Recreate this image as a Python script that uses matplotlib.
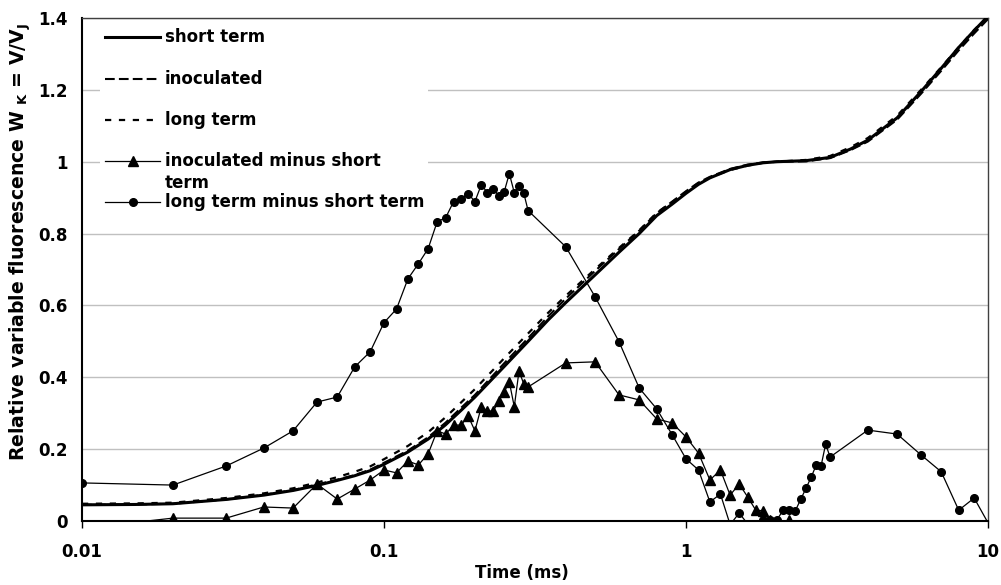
import numpy as np
import matplotlib
matplotlib.use("Agg")
import matplotlib.pyplot as plt
from matplotlib.patches import Rectangle
from matplotlib.ticker import NullLocator, FixedLocator, FixedFormatter

# ---------------- data ----------------
time_curve = [0.01, 0.015, 0.02, 0.03, 0.04, 0.05, 0.06, 0.07, 0.08, 0.09,
              0.1, 0.12, 0.14, 0.16, 0.18, 0.2, 0.25, 0.3, 0.35, 0.4,
              0.5, 0.6, 0.7, 0.8, 0.9, 1.0, 1.1, 1.2, 1.4, 1.6,
              1.8, 2.0, 2.5, 3.0, 3.5, 4.0, 5.0, 6.0, 7.0, 8.0, 9.0, 10.0]

short_term = [0.045, 0.046, 0.048, 0.060, 0.072, 0.085, 0.099, 0.113, 0.126, 0.140,
              0.158, 0.192, 0.228, 0.268, 0.308, 0.345, 0.430, 0.500, 0.560, 0.608,
              0.685, 0.748, 0.800, 0.850, 0.882, 0.912, 0.937, 0.955, 0.978, 0.990,
              0.997, 1.000, 1.003, 1.012, 1.035, 1.060, 1.122, 1.195, 1.260, 1.318, 1.365, 1.405]

inoculated = [0.045, 0.046, 0.048, 0.060, 0.073, 0.086, 0.102, 0.115, 0.128, 0.143,
              0.162, 0.196, 0.233, 0.274, 0.315, 0.351, 0.439, 0.509, 0.570, 0.619,
              0.696, 0.757, 0.808, 0.857, 0.889, 0.918, 0.942, 0.958, 0.980, 0.992,
              0.998, 1.000, 1.001, 1.010, 1.032, 1.056, 1.117, 1.189, 1.253, 1.310, 1.357, 1.397]

long_term = [0.048, 0.049, 0.051, 0.064, 0.077, 0.091, 0.107, 0.122, 0.137, 0.152,
             0.172, 0.209, 0.247, 0.289, 0.330, 0.367, 0.453, 0.522, 0.580, 0.627,
             0.701, 0.760, 0.809, 0.858, 0.888, 0.916, 0.941, 0.956, 0.977, 0.989,
             0.997, 1.000, 1.005, 1.016, 1.040, 1.066, 1.128, 1.200, 1.263, 1.319, 1.367, 1.405]

time_diff = [0.01, 0.02, 0.03, 0.04, 0.05, 0.06, 0.07, 0.08, 0.09, 0.10,
             0.11, 0.12, 0.13, 0.14, 0.15, 0.16, 0.17, 0.18, 0.19, 0.20,
             0.21, 0.22, 0.23, 0.24, 0.25, 0.26, 0.27, 0.28, 0.29, 0.30,
             0.4, 0.5, 0.6, 0.7, 0.8, 0.9, 1.0, 1.1, 1.2, 1.3,
             1.4, 1.5, 1.6, 1.7, 1.8, 1.9, 2.0, 2.1, 2.2, 2.3,
             2.4, 2.5, 2.6, 2.7, 2.8, 2.9, 3.0,
             4, 5, 6, 7, 8, 9, 10]

long_minus_short = [0.106, 0.100, 0.153, 0.203, 0.251, 0.331, 0.345, 0.429, 0.471, 0.552,
                    0.590, 0.674, 0.716, 0.758, 0.833, 0.844, 0.889, 0.897, 0.911, 0.889,
                    0.936, 0.914, 0.925, 0.905, 0.916, 0.967, 0.914, 0.933, 0.914, 0.864,
                    0.763, 0.624, 0.499, 0.370, 0.312, 0.240, 0.173, 0.142, 0.053, 0.075,
                    -0.010, 0.022, -0.008, -0.030, 0.003, 0.003, 0.003, 0.031, 0.031, 0.028,
                    0.061, 0.092, 0.123, 0.156, 0.153, 0.214, 0.178,
                    0.253, 0.242, 0.184, 0.137, 0.030, 0.064, -0.005]

inoc_minus_short = [-0.020, 0.008, 0.008, 0.039, 0.036, 0.103, 0.061, 0.089, 0.114, 0.142,
                    0.134, 0.167, 0.156, 0.187, 0.251, 0.242, 0.267, 0.267, 0.292, 0.251,
                    0.318, 0.306, 0.306, 0.334, 0.359, 0.387, 0.318, 0.418, 0.382, 0.373,
                    0.440, 0.443, 0.351, 0.337, 0.284, 0.273, 0.234, 0.189, 0.114, 0.142,
                    0.072, 0.103, 0.067, 0.031, 0.028, 0.002, -0.015, -0.020, 0.002, -0.060,
                    -0.090, -0.110, -0.130, -0.140, -0.150, -0.160, -0.170,
                    -0.200, -0.210, -0.220, -0.230, -0.240, -0.250, -0.260]

x_ticks = [0.01, 0.1, 1, 10]
x_tick_labels = ["0.01", "0.1", "1", "10"]
y_ticks = [0, 0.2, 0.4, 0.6, 0.8, 1.0, 1.2, 1.4]
y_tick_labels = ["0", "0.2", "0.4", "0.6", "0.8", "1", "1.2", "1.4"]

legend_labels = ["short term", "inoculated", "long term",
                 "inoculated minus short\nterm", "long term minus short term"]
x_label = "Time (ms)"
y_label = r"Relative variable fluorescence W $_{\mathbf{K}}$ = V/V$_{\mathbf{J}}$"

# ---------------- style ----------------
plt.rcParams['font.family'] = ['DejaVu Sans']
plt.rcParams['font.weight'] = 'bold'
plt.rcParams['mathtext.fontset'] = 'dejavusans'
plt.rcParams['lines.scale_dashes'] = False

FS = 12
styles = [
    dict(color='black', lw=2.2, ls='-'),
    dict(color='black', lw=1.5, dashes=(7, 3)),
    dict(color='black', lw=1.6, dashes=(4.5, 5.5)),
    dict(color='black', lw=0.9, marker='^', ms=7),
    dict(color='black', lw=0.9, marker='o', ms=5.5),
]

W, H = 1001, 585
fig = plt.figure(figsize=(W / 100, H / 100), dpi=100)
ax = fig.add_axes([82 / W, (H - 521) / H, 906 / W, 503 / H])

ax.set_xscale('log')
ax.set_xlim(0.01, 10)
ax.set_ylim(0, 1.4)

# curves
ax.plot(time_curve, long_term, color='black', lw=styles[2]['lw'], dashes=styles[2]['dashes'], zorder=3)
ax.plot(time_curve, inoculated, color='black', lw=styles[1]['lw'], dashes=styles[1]['dashes'], zorder=3)
ax.plot(time_curve, short_term, color='black', lw=styles[0]['lw'], zorder=4)

# difference series (markers only drawn inside the value range)
td = np.array(time_diff)
for vals, st in [(inoc_minus_short, styles[3]), (long_minus_short, styles[4])]:
    v = np.array(vals)
    ax.plot(td, v, color='black', lw=st['lw'], zorder=5)
    m = (v >= 0) & (v <= 1.4)
    ax.plot(td[m], v[m], ls='none', marker=st['marker'], ms=st['ms'],
            color='black', zorder=6)

# axes styling
ax.xaxis.set_major_locator(FixedLocator(x_ticks))
ax.xaxis.set_major_formatter(FixedFormatter(x_tick_labels))
ax.xaxis.set_minor_locator(NullLocator())
ax.yaxis.set_major_locator(FixedLocator(y_ticks))
ax.yaxis.set_major_formatter(FixedFormatter(y_tick_labels))
ax.tick_params(axis='x', which='major', length=5, width=1, direction='out',
               pad=11, labelsize=FS)
ax.tick_params(axis='y', which='major', length=0, pad=10, labelsize=FS)
for lab in ax.get_xticklabels() + ax.get_yticklabels():
    lab.set_fontweight('bold')

ax.set_axisbelow(True)
ax.yaxis.grid(True, color='#c0c0c0', lw=1)
for s in ['left', 'bottom']:
    ax.spines[s].set_linewidth(1.5)
    ax.spines[s].set_color('black')
for s in ['top', 'right']:
    ax.spines[s].set_linewidth(1.0)
    ax.spines[s].set_color('#404040')

ax.set_xlabel(x_label, fontsize=FS, fontweight='bold')
ax.xaxis.set_label_coords(0.485, -0.085)
ax.set_ylabel(y_label, fontsize=13.6, fontweight='bold')
ax.yaxis.set_label_coords(-0.054, 0.555)

# manual legend (Excel style)
def fx(px):
    return (px - 82) / 906.0

def fy(py):
    return (521 - py) / 503.0

ax.add_patch(Rectangle((fx(100), fy(218)), fx(428) - fx(100), fy(21) - fy(218),
                       transform=ax.transAxes, facecolor='white', edgecolor='none', zorder=1))
rows = [37, 79, 120, 161, 202]
x0, x1 = fx(105), fx(160)
xm = (x0 + x1) / 2
for lab, st, ry in zip(legend_labels, styles, rows):
    yy = fy(ry)
    kw = {k: v for k, v in st.items() if k not in ('marker', 'ms')}
    ax.plot([x0, xm, x1], [yy, yy, yy], transform=ax.transAxes, clip_on=False, zorder=7, **kw)
    if 'marker' in st:
        ax.plot([xm], [yy], transform=ax.transAxes, ls='none', marker=st['marker'],
                ms=st['ms'], color='black', clip_on=False, zorder=8)
    for i, line in enumerate(lab.split('\n')):
        ax.text(fx(165), fy(ry + 22 * i), line, transform=ax.transAxes, fontsize=FS,
                fontweight='bold', va='center', ha='left', zorder=8)

fig.savefig('out.png', dpi=100)
